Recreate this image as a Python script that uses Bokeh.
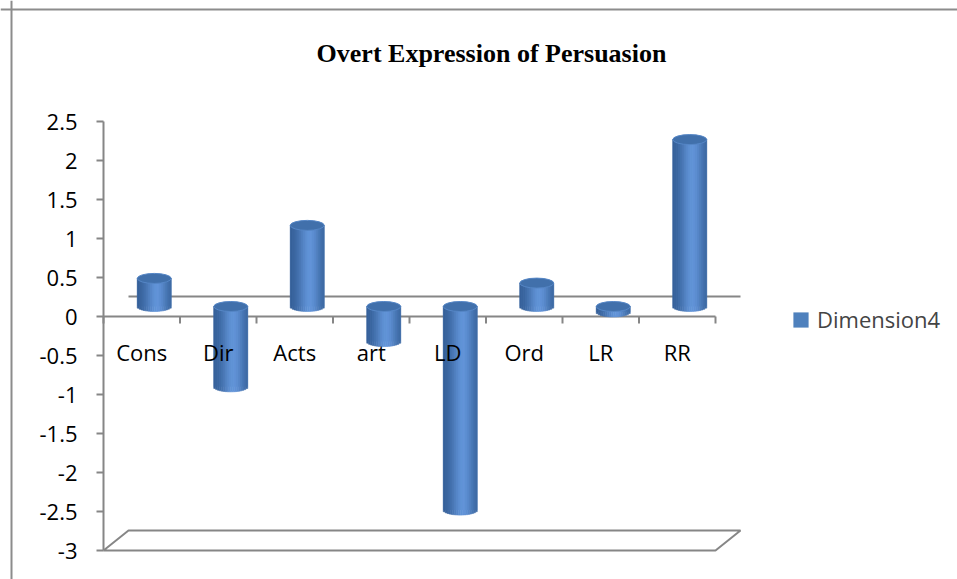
import math
from bokeh.plotting import figure
from bokeh.models import ColumnDataSource, Range1d, Span, Label, Legend, LegendItem
from bokeh.core.properties import value
from bokeh.embed import file_html
from bokeh.resources import INLINE

# ---------------- data ----------------
categories = ["Cons", "Dir", "Acts", "art", "LD", "Ord", "LR", "RR"]
dimension4 = [0.36, -1.03, 1.04, -0.45, -2.61, 0.30, -0.07, 2.14]
y_ticks = [2.5, 2, 1.5, 1, 0.5, 0, -0.5, -1, -1.5, -2, -2.5, -3]
y_tick_labels = ["2.5", "2", "1.5", "1", "0.5", "0", "-0.5", "-1", "-1.5", "-2", "-2.5", "-3"]
title_text = "Overt Expression of Persuasion"
series_name = "Dimension4"

# ---------------- layout / style ----------------
FIG_W, FIG_H = 957, 579
PXX = 76.5          # pixels per category
PXY = 78.0          # pixels per value unit
X0_PX = 141.25      # figure pixel of category 0 centre (front plane)
Y0_PX = 316.0       # figure pixel (from top) of value 0 (front plane)
DEPTH_DX = 25 / PXX
DEPTH_DY = 20 / PXY
BAR_W = 34 / PXX
ELL_H = 10 / PXY
TICK_X = 7 / PXX
TICK_Y = 7 / PXY
AX_COL = "#868686"
FONT = "Open Sans"

x_range = Range1d(-X0_PX / PXX, (FIG_W - X0_PX) / PXX)
y_range = Range1d(-(FIG_H - Y0_PX) / PXY, Y0_PX / PXY)

p = figure(width=FIG_W, height=FIG_H, x_range=x_range, y_range=y_range,
           x_axis_type=None, y_axis_type=None, toolbar_location=None,
           output_backend="svg", min_border=0, outline_line_color=None,
           background_fill_color="white", border_fill_color="white")

# chart border (top and left)
p.add_layout(Span(location=y_range.end - 9 / PXY, dimension="width",
                  line_color="#8c8c8c", line_width=2))
p.add_layout(Span(location=x_range.start + 11 / PXX, dimension="height",
                  line_color="#8c8c8c", line_width=2))

n = len(categories)
first_b = -0.5
last_b = n - 0.5
ymin, ymax = min(y_ticks), max(y_ticks)

# back-wall zero line
p.segment(x0=[first_b + DEPTH_DX], y0=[DEPTH_DY], x1=[last_b + DEPTH_DX], y1=[DEPTH_DY],
          line_color=AX_COL, line_width=2)
# floor
p.line(x=[first_b, last_b, last_b + DEPTH_DX, first_b + DEPTH_DX, first_b],
       y=[ymin, ymin, ymin + DEPTH_DY, ymin + DEPTH_DY, ymin],
       line_color=AX_COL, line_width=2)
# y axis line + ticks
p.segment(x0=[first_b], y0=[ymin], x1=[first_b], y1=[ymax], line_color=AX_COL, line_width=2)
p.segment(x0=[first_b - TICK_X] * len(y_ticks), y0=y_ticks,
          x1=[first_b] * len(y_ticks), y1=y_ticks, line_color=AX_COL, line_width=2)
# x axis (front) line + ticks
p.segment(x0=[first_b], y0=[0], x1=[last_b], y1=[0], line_color=AX_COL, line_width=2)
bounds = [i - 0.5 for i in range(n + 1)]
p.segment(x0=bounds, y0=[0] * len(bounds), x1=bounds, y1=[-TICK_Y] * len(bounds),
          line_color=AX_COL, line_width=2)

# ---------------- cylinders ----------------
dark = (52, 94, 150)
light = (98, 148, 216)

def shade(u):
    f = math.exp(-((u - 0.58) / 0.33) ** 2)
    c = [int(round(d + (l - d) * f)) for d, l in zip(dark, light)]
    return "#%02x%02x%02x" % tuple(c)

cx = [i + DEPTH_DX / 2 for i in range(n)]
base = DEPTH_DY / 2
y_top = [max(base, base + v) for v in dimension4]
y_bot = [min(base, base + v) for v in dimension4]

body = p.vbar(x=cx, width=BAR_W, top=y_top, bottom=y_bot,
              fill_color="#4f81bd", line_color=None)

N = 18
sx, st, sb, sc = [], [], [], []
for i in range(n):
    for k in range(N):
        u = (k + 0.5) / N
        sx.append(cx[i] - BAR_W / 2 + u * BAR_W)
        st.append(y_top[i])
        sb.append(y_bot[i] - (ELL_H / 2) * math.sqrt(max(0.0, 1 - (2 * u - 1) ** 2)))
        sc.append(shade(u))
strips = ColumnDataSource(dict(x=sx, top=st, bottom=sb, color=sc))
p.vbar(x="x", width=BAR_W / N, top="top", bottom="bottom", source=strips,
       fill_color="color", line_color="color", line_width=0.6)

p.ellipse(x=cx, y=y_top, width=BAR_W, height=ELL_H,
          fill_color="#4170ab", line_color="#5586c6", line_width=1)

# tick labels (drawn over the bars, as in the original)
p.text(x=[first_b] * len(y_ticks), y=y_ticks, text=y_tick_labels,
       x_offset=-26, text_align="right", text_baseline="middle",
       text_font=value(FONT), text_font_size="22px", text_color="black")
p.text(x=list(range(n)), y=[0] * n, text=categories, y_offset=35,
       text_align="center", text_baseline="middle",
       text_font=value(FONT), text_font_size="22px", text_color="black")

# title
p.add_layout(Label(x=491, y=FIG_H - 53, x_units="screen", y_units="screen",
                   text=title_text, text_align="center", text_baseline="alphabetic",
                   text_font="Liberation Serif", text_font_style="bold",
                   text_font_size="26px", text_color="black"))

# legend
legend = Legend(items=[LegendItem(label=series_name, renderers=[body])],
                location=(791, FIG_H - 334), border_line_color=None,
                background_fill_alpha=0, padding=0, margin=0, spacing=0,
                glyph_width=19, glyph_height=19, label_height=19, label_standoff=7,
                label_text_font=FONT, label_text_font_size="22px",
                label_text_baseline="middle")
p.add_layout(legend, "center")

open("out.html", "w").write(file_html(p, INLINE))
